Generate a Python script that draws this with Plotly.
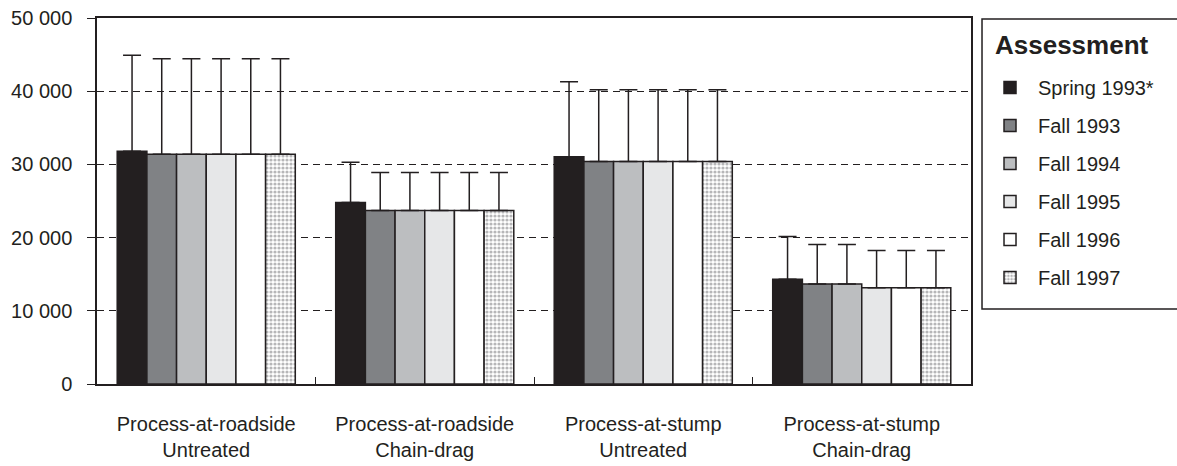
import plotly.graph_objects as go

categories = ["Process-at-roadside<br>Untreated", "Process-at-roadside<br>Chain-drag",
              "Process-at-stump<br>Untreated", "Process-at-stump<br>Chain-drag"]

series_names = ["Spring 1993*", "Fall 1993", "Fall 1994", "Fall 1995", "Fall 1996", "Fall 1997"]

spring_1993 = [31800, 24800, 31050, 14300]
fall_1993 = [31400, 23700, 30400, 13650]
fall_1994 = [31400, 23700, 30400, 13650]
fall_1995 = [31400, 23700, 30400, 13150]
fall_1996 = [31400, 23700, 30400, 13150]
fall_1997 = [31400, 23700, 30400, 13150]

err_spring_1993 = [13100, 5500, 10250, 5850]
err_fall_1993 = [13050, 5200, 9800, 5400]
err_fall_1994 = [13050, 5200, 9800, 5400]
err_fall_1995 = [13050, 5200, 9800, 5100]
err_fall_1996 = [13050, 5200, 9800, 5100]
err_fall_1997 = [13050, 5200, 9800, 5100]

y_ticks = [0, 10000, 20000, 30000, 40000, 50000]
legend_title = "Assessment"

values = [spring_1993, fall_1993, fall_1994, fall_1995, fall_1996, fall_1997]
errors = [err_spring_1993, err_fall_1993, err_fall_1994, err_fall_1995, err_fall_1996, err_fall_1997]

INK = "#231f20"
fills = ["#231f20", "#808285", "#bcbec0", "#e6e7e8", "#ffffff", "#ffffff"]
FONT = "Liberation Sans, Arial, sans-serif"

fig = go.Figure()
for i, (name, vals, errs) in enumerate(zip(series_names, values, errors)):
    marker = dict(color=fills[i], line=dict(color=INK, width=1.5))
    if i == 5:
        marker["pattern"] = dict(shape=".", fgcolor="#6d6e71", bgcolor="#ffffff",
                                 size=4, solidity=0.5, fillmode="overlay")
    fig.add_trace(go.Bar(
        x=categories, y=vals, name=name, marker=marker,
        legendgroup=name,
        error_y=dict(type="data", array=errs, arrayminus=[0] * len(errs),
                     symmetric=False, color=INK, thickness=1.5, width=9),
    ))

# legend frame and title (plot area spans 97..971 px horizontally, 18..384 px vertically)
fig.add_shape(type="rect", xref="paper", yref="paper",
              x0=1.0126, x1=1.26, y0=0.2049, y1=0.9973,
              line=dict(color=INK, width=1.5), fillcolor="white", layer="below")
fig.add_annotation(text="<b>" + legend_title + "</b>", xref="paper", yref="paper",
                   x=1.0255, y=0.9262, xanchor="left", yanchor="middle", showarrow=False,
                   font=dict(size=26, family=FONT, color=INK))

fig.update_layout(
    template="none",
    barmode="group", bargap=0.185, bargroupgap=0,
    width=1177, height=466,
    margin=dict(l=97, r=206, t=18, b=82),
    paper_bgcolor="white", plot_bgcolor="white",
    separators=". ",
    font=dict(family=FONT, size=20, color=INK),
    showlegend=True,
    legend=dict(
        x=1.0126, y=0.8634, xanchor="left", yanchor="top",
        borderwidth=0, bgcolor="rgba(0,0,0,0)",
        font=dict(size=20, family=FONT, color=INK),
        tracegroupgap=9, itemwidth=46,
    ),
)
fig.update_xaxes(
    automargin=False,
    showline=True, linecolor=INK, linewidth=1.5, mirror=True,
    ticks="inside", tickson="boundaries", ticklen=7, tickcolor=INK, tickwidth=1,
    ticklabelstandoff=21, showgrid=False,
    tickfont=dict(size=20, family=FONT, color=INK),
)
fig.update_yaxes(
    automargin=False,
    range=[0, 50000], tickvals=y_ticks, tickformat=",d",
    showline=True, linecolor=INK, linewidth=1.5, mirror=True,
    ticks="outside", ticklen=8, tickcolor=INK, tickwidth=1,
    ticklabelstandoff=11,
    showgrid=True, gridcolor=INK, gridwidth=1, griddash="7px,5px",
    zeroline=False,
    tickfont=dict(size=20, family=FONT, color=INK),
)

fig.write_html(
    "out.html",
    config={"displayModeBar": False},
    post_script="document.body.style.margin='0';document.body.style.overflow='hidden';",
)
